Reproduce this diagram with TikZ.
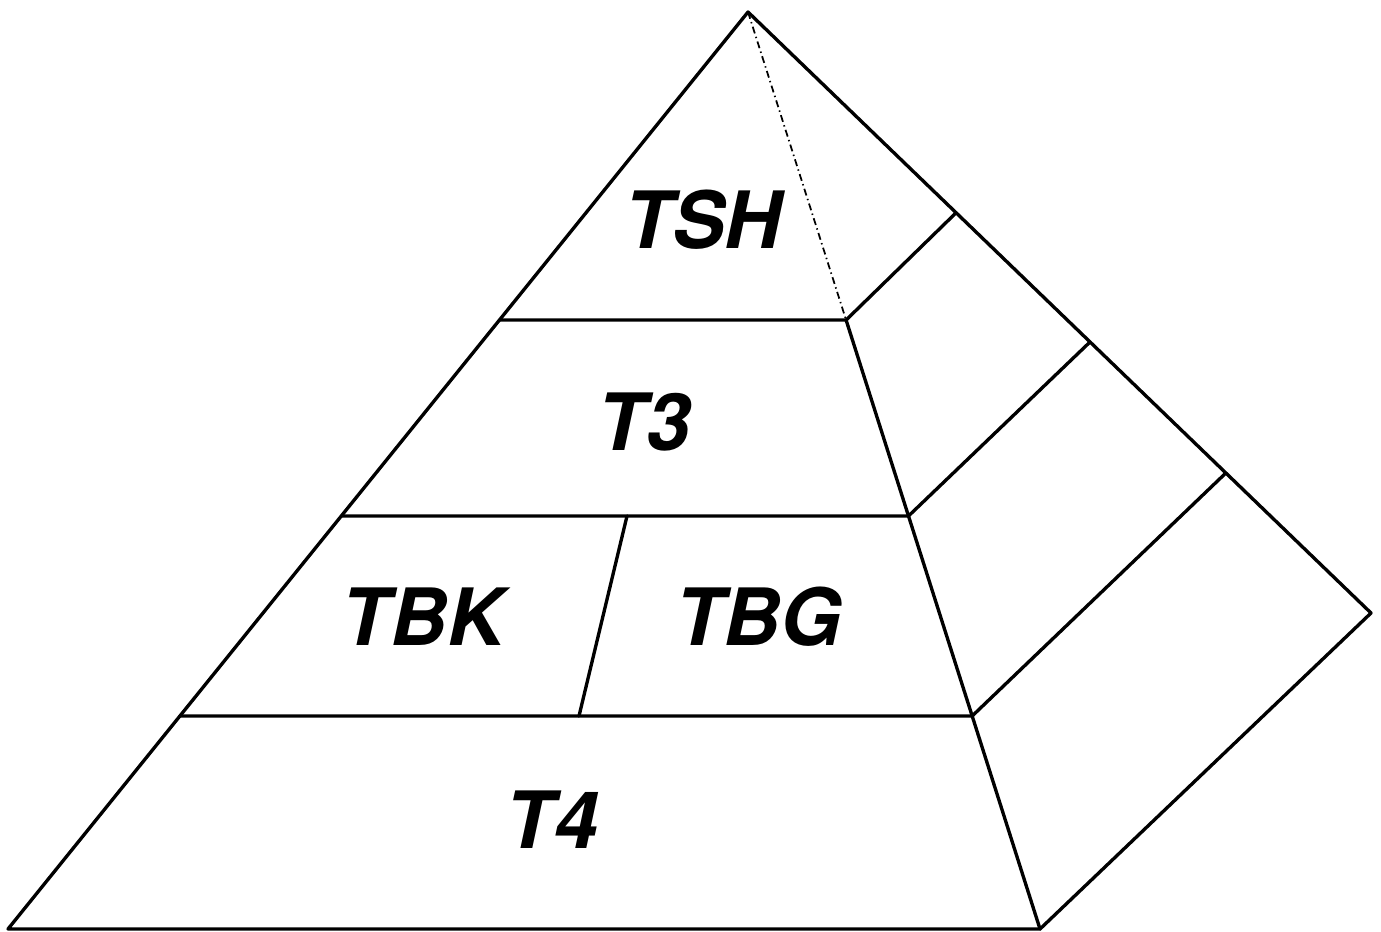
\documentclass[tikz,border=0pt]{standalone}
\usepackage{fontspec}
\setsansfont{TeX Gyre Heros}
\usetikzlibrary{calc}
\begin{document}
\begin{tikzpicture}[x=0.02cm, y=-0.02cm,
  edge/.style={line width=1.9pt, line join=round, line cap=round},
  hidden/.style={line width=1pt, dash pattern=on 4pt off 2pt on 0.8pt off 2pt},
  tier/.style={font=\sffamily\bfseries\itshape\fontsize{45}{52}\selectfont, inner sep=0pt, anchor=base}]
\useasboundingbox (0,0) rectangle (1381,931);

% outer corners of the pyramid
\coordinate (A)  at (748,12);
\coordinate (BL) at (8,929);
\coordinate (BR) at (1040,929);
\coordinate (BK) at (1371,613);

% tier boundaries on the front face
\coordinate (L1) at ($(A)!0.3359!(BL)$);
\coordinate (R1) at ($(A)!0.3359!(BR)$);
\coordinate (L2) at ($(A)!0.5496!(BL)$);
\coordinate (R2) at ($(A)!0.5496!(BR)$);
\coordinate (L3) at ($(A)!0.7677!(BL)$);
\coordinate (R3) at ($(A)!0.7677!(BR)$);

% tier boundaries on the side face
\coordinate (S1) at ($(A)!0.334!(BK)$);
\coordinate (S2) at ($(A)!0.549!(BK)$);
\coordinate (S3) at ($(A)!0.767!(BK)$);

% split of the third tier
\coordinate (D1) at (627,516);
\coordinate (D2) at (579,716);

% outline
\draw[edge] (BL) -- (A) -- (BK) -- (BR) -- cycle;
\draw[edge] (R1) -- (BR);
\draw[hidden] (A) -- (R1);

% horizontal tiers
\draw[edge] (L1) -- (R1) -- (S1);
\draw[edge] (L2) -- (R2) -- (S2);
\draw[edge] (L3) -- (R3) -- (S3);
\draw[edge] (D1) -- (D2);

% labels
\node[tier] (tsh) at (703,248) {TSH};
\node[tier] (t3)  at (644,450) {T3};
\node[tier] (tbk) at (423,645) {TBK};
\node[tier] (tbg) at (759,645) {TBG};
\node[tier] (t4)  at (552,848) {T4};
\end{tikzpicture}
\end{document}
